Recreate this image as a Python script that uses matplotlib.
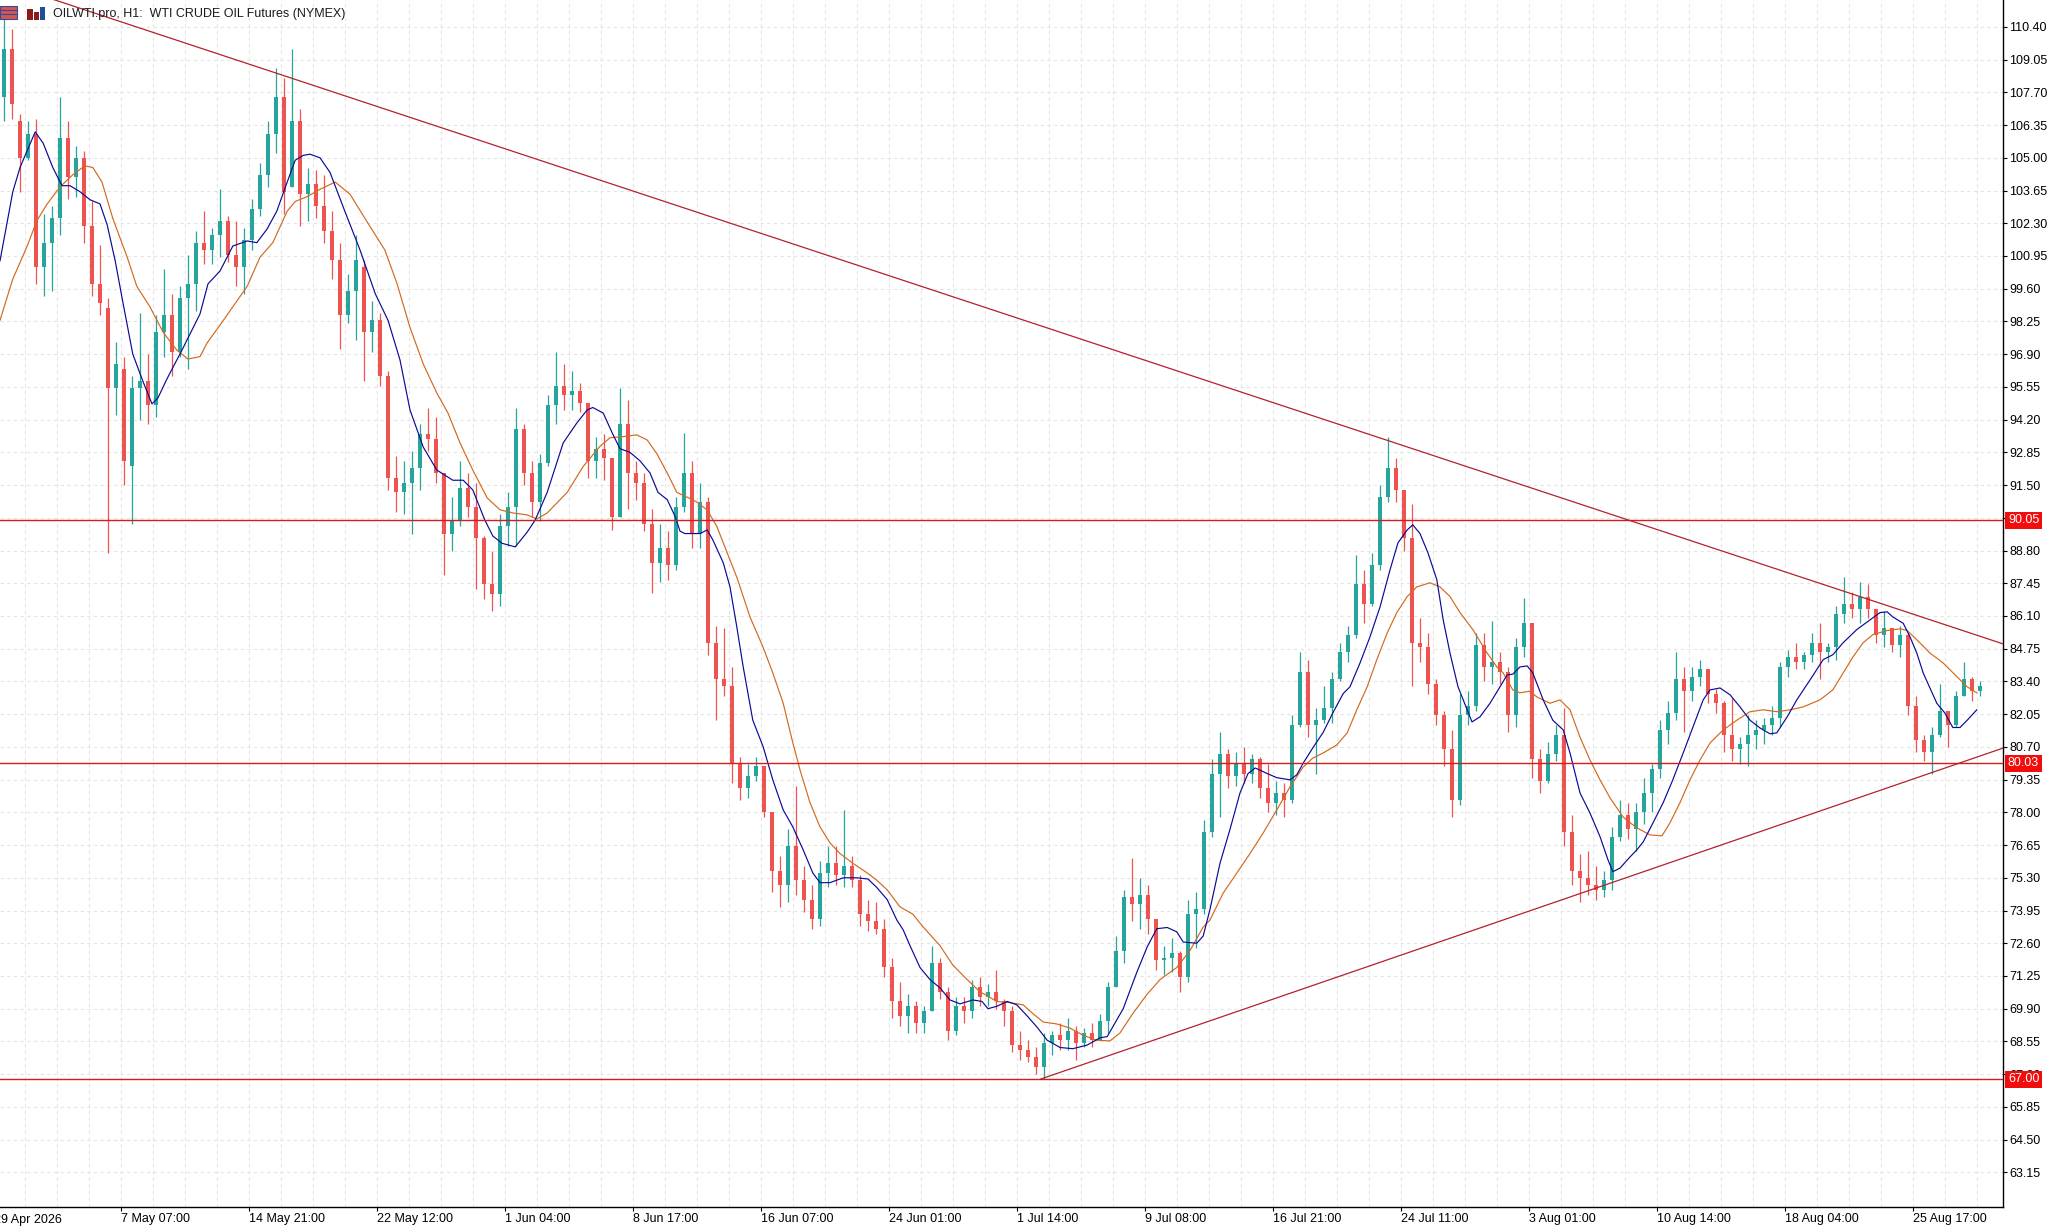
import numpy as np
import matplotlib
matplotlib.use('Agg')
import matplotlib.pyplot as plt
from matplotlib.transforms import blended_transform_factory
from matplotlib.patches import Rectangle

# OILWTI H1 candles, sampled as one candle per 8 px of the original screen
opens = [107.5, 109.5, 106.5, 105.0, 106.0, 100.5, 101.5, 102.5, 105.8, 104.2,
         105.0, 102.2, 99.8, 98.8, 95.5, 96.3, 92.3, 95.5, 95.8, 94.8,
         97.8, 98.5, 97.0, 99.2, 99.8, 101.5, 101.2, 101.8, 102.4, 101.0,
         100.5, 101.6, 102.9, 104.3, 106.0, 107.5, 103.8, 106.5, 103.5, 103.9,
         103.0, 102.0, 100.8, 98.5, 99.5, 100.5, 97.8, 98.3, 96.0, 91.8,
         91.2, 91.6, 92.2, 93.6, 93.4, 92.0, 89.5, 90.0, 91.4, 90.6,
         89.3, 87.4, 87.0, 89.8, 90.6, 93.8, 92.0, 90.8, 92.4, 94.8,
         95.6, 95.2, 95.4, 94.9, 92.5, 93.0, 92.6, 90.2, 94.0, 92.0,
         91.6, 89.9, 88.3, 88.9, 88.2, 90.6, 92.0, 89.5, 90.8, 85.0,
         83.5, 83.2, 80.0, 79.0, 79.5, 79.9, 78.0, 75.6, 75.0, 76.6,
         75.2, 74.4, 73.6, 75.5, 75.9, 75.4, 75.8, 75.2, 73.8, 73.5,
         73.2, 71.6, 70.2, 69.6, 70.0, 69.3, 69.8, 71.8, 70.6, 69.0,
         70.0, 69.8, 70.8, 70.4, 70.6, 70.2, 69.8, 68.4, 68.2, 67.9,
         67.5, 68.5, 68.8, 68.6, 69.0, 68.5, 68.9, 68.6, 69.4, 70.8,
         72.3, 74.5, 74.2, 74.6, 73.6, 71.9, 72.0, 72.2, 71.2, 73.8,
         74.0, 77.2, 79.6, 80.4, 79.5, 80.0, 79.6, 80.2, 79.0, 78.4,
         78.8, 78.5, 81.6, 83.8, 81.6, 81.8, 82.3, 83.5, 84.6, 85.3,
         87.4, 86.6, 88.2, 91.0, 92.2, 91.3, 89.3, 85.0, 84.8, 83.3,
         82.0, 80.6, 78.5, 82.0, 82.4, 84.9, 84.0, 84.2, 83.8, 82.0,
         84.8, 85.8, 80.2, 79.3, 80.4, 81.2, 77.2, 75.6, 75.3, 75.0,
         74.8, 75.2, 77.0, 77.9, 77.3, 78.0, 78.8, 79.8, 81.4, 82.1,
         83.5, 83.0, 83.6, 83.9, 82.9, 82.5, 81.2, 80.6, 80.8, 81.2,
         81.4, 81.6, 81.9, 84.0, 84.4, 84.2, 84.5, 85.0, 84.6, 84.8,
         86.2, 86.6, 86.4, 86.9, 86.4, 85.3, 85.6, 84.9, 85.3, 82.4,
         81.0, 80.5, 81.2, 82.2, 81.6, 82.8, 83.5, 83.0]
highs = [110.85, 110.3, 106.8, 106.5, 106.6, 102.7, 103.0, 107.5, 106.5, 105.5,
         105.3, 103.2, 101.4, 99.2, 97.4, 96.8, 96.0, 98.6, 96.9, 98.5,
         100.4, 99.4, 99.7, 101.0, 102.0, 102.8, 102.1, 103.7, 102.6, 102.4,
         102.1, 103.3, 104.8, 106.5, 108.7, 108.3, 109.5, 107.0, 104.6, 104.5,
         104.3, 102.8, 101.5, 100.2, 101.8, 100.8, 99.1, 98.6, 96.2, 92.7,
         92.5, 92.9, 94.0, 94.7, 94.3, 92.0, 91.0, 92.5, 92.0, 91.6,
         89.4, 88.8, 90.3, 91.2, 94.7, 94.0, 92.5, 92.8, 95.2, 97.0,
         96.5, 96.2, 95.7, 94.9, 93.5, 93.6, 92.6, 95.5, 95.0, 92.5,
         92.0, 90.5, 89.9, 89.6, 91.0, 93.65, 92.5, 91.6, 91.0, 85.7,
         85.6, 84.0, 80.3, 80.0, 80.3, 79.9, 78.0, 76.2, 77.3, 79.1,
         75.8, 75.0, 76.0, 76.6, 76.6, 78.1, 76.2, 75.4, 74.4, 74.3,
         73.6, 72.0, 71.0, 70.5, 70.2, 70.0, 72.5, 72.0, 70.8, 70.4,
         70.4, 71.1, 71.2, 70.9, 71.5, 70.3, 70.0, 69.0, 68.6, 68.3,
         68.9, 69.0, 69.3, 69.5, 69.2, 69.1, 69.3, 69.7, 71.0, 72.9,
         74.8, 76.1, 75.3, 75.0, 73.6, 72.5, 72.8, 72.3, 74.4, 74.7,
         77.7, 80.2, 81.3, 80.6, 80.5, 80.7, 80.4, 80.3, 80.0, 79.3,
         79.2, 82.0, 84.6, 84.3, 82.3, 83.2, 83.8, 85.0, 85.7, 88.6,
         88.0, 88.7, 91.5, 93.5, 92.6, 91.3, 90.7, 86.0, 85.4, 83.5,
         82.2, 81.4, 82.9, 83.0, 85.4, 85.4, 85.9, 84.6, 84.0, 85.2,
         86.85, 85.8, 80.6, 80.9, 81.6, 82.3, 77.9, 76.3, 76.4, 75.8,
         75.6, 77.4, 78.5, 78.4, 78.4, 79.4, 80.0, 81.8, 82.6, 84.6,
         84.0, 84.0, 84.3, 83.9, 83.1, 82.6, 82.7, 81.1, 82.0, 81.8,
         81.9, 82.4, 84.2, 84.7, 85.0, 84.6, 85.4, 85.8, 85.0, 86.5,
         87.7, 87.1, 87.5, 87.4, 86.4, 86.3, 85.6, 85.7, 85.4, 82.8,
         81.2, 81.5, 83.3, 82.2, 83.0, 84.2, 83.6, 83.4]
lows = [106.5, 106.6, 103.6, 104.9, 99.8, 99.3, 99.5, 101.8, 103.3, 103.4,
        101.5, 99.3, 98.5, 88.7, 94.4, 91.5, 89.9, 94.2, 94.0, 94.3,
        96.8, 96.0, 96.8, 96.3, 98.7, 100.6, 100.6, 100.9, 100.7, 99.7,
        99.4, 101.2, 102.6, 103.8, 105.2, 102.7, 103.8, 102.2, 102.4, 102.5,
        101.5, 100.0, 97.1, 98.2, 97.5, 95.8, 97.0, 95.6, 91.3, 90.4,
        90.3, 89.5, 91.3, 92.9, 91.6, 87.8, 88.8, 89.8, 90.2, 87.2,
        86.8, 86.3, 86.5, 89.0, 89.0, 91.5, 90.2, 90.0, 92.3, 94.0,
        94.6, 94.6, 94.5, 91.8, 91.8, 91.7, 89.65, 90.2, 90.5, 90.9,
        89.6, 87.05, 87.5, 87.6, 88.0, 90.4, 88.9, 88.9, 84.5, 81.8,
        82.8, 79.2, 78.5, 78.6, 79.3, 77.8, 74.7, 74.1, 74.3, 74.6,
        73.9, 73.2, 73.3, 74.9, 75.0, 74.9, 74.9, 73.3, 73.1, 73.0,
        71.2, 69.5, 69.2, 68.9, 68.9, 68.9, 69.8, 70.3, 68.6, 68.8,
        69.3, 69.5, 70.0, 70.0, 69.9, 69.2, 68.1, 67.8, 67.7, 67.2,
        67.0, 68.0, 68.2, 68.2, 67.8, 68.3, 68.3, 68.6, 68.9, 70.8,
        71.8, 73.5, 73.2, 73.0, 71.5, 71.3, 71.4, 70.6, 71.0, 72.4,
        73.8, 77.0, 77.8, 79.0, 79.1, 79.2, 79.2, 78.6, 78.0, 77.9,
        77.8, 78.4, 81.5, 81.1, 79.6, 81.7, 81.7, 83.4, 84.2, 85.2,
        85.8, 86.5, 88.0, 90.8, 90.8, 88.8, 83.2, 84.2, 82.9, 81.6,
        79.9, 77.8, 78.3, 81.6, 82.2, 83.4, 83.3, 83.3, 81.3, 81.5,
        84.4, 79.4, 78.8, 79.2, 80.1, 76.6, 75.0, 74.3, 74.6, 74.4,
        74.5, 74.8, 76.8, 76.9, 76.4, 77.5, 78.0, 79.4, 80.8, 81.8,
        81.3, 82.6, 83.2, 82.5, 82.1, 80.5, 80.1, 80.0, 79.9, 80.6,
        80.8, 81.2, 81.5, 83.6, 83.9, 83.9, 84.2, 83.5, 84.2, 84.3,
        85.8, 86.0, 85.8, 86.0, 85.0, 84.8, 84.6, 84.4, 82.0, 80.5,
        80.1, 79.6, 81.1, 80.7, 81.5, 82.8, 82.6, 82.8]
closes = [109.5, 107.2, 105.0, 106.0, 100.5, 101.5, 102.5, 105.8, 104.2, 105.0,
          102.2, 99.8, 99.0, 95.5, 96.5, 92.5, 95.5, 95.8, 94.8, 97.8,
          98.5, 97.0, 99.2, 99.8, 101.5, 101.2, 101.8, 102.4, 101.0, 100.5,
          101.6, 102.9, 104.3, 106.0, 107.5, 103.6, 106.5, 103.5, 103.9, 103.0,
          102.0, 100.8, 98.5, 99.5, 100.8, 97.8, 98.3, 96.0, 91.8, 91.2,
          91.6, 92.2, 93.6, 93.4, 92.0, 89.5, 90.0, 91.4, 90.6, 89.3,
          87.4, 87.0, 89.8, 90.6, 93.8, 92.0, 90.8, 92.4, 94.8, 95.6,
          95.2, 95.4, 94.9, 92.5, 93.0, 92.6, 90.2, 94.0, 92.0, 91.6,
          89.9, 88.3, 88.9, 88.2, 90.6, 92.0, 89.5, 90.8, 85.0, 83.5,
          83.2, 80.0, 79.0, 79.5, 79.9, 78.0, 75.6, 75.0, 76.6, 75.2,
          74.4, 73.6, 75.5, 75.9, 75.4, 75.8, 75.2, 73.8, 73.5, 73.2,
          71.6, 70.2, 69.6, 70.0, 69.3, 69.8, 71.8, 70.6, 69.0, 70.0,
          69.8, 70.8, 70.4, 70.6, 70.2, 69.8, 68.4, 68.2, 67.9, 67.5,
          68.5, 68.8, 68.6, 69.0, 68.5, 68.9, 68.6, 69.4, 70.8, 72.3,
          74.5, 74.2, 74.6, 73.6, 71.9, 72.0, 72.2, 71.2, 73.8, 74.0,
          77.2, 79.6, 80.4, 79.5, 80.0, 79.6, 80.2, 79.0, 78.4, 78.8,
          78.5, 81.6, 83.8, 81.6, 81.8, 82.3, 83.5, 84.6, 85.3, 87.4,
          86.6, 88.2, 91.0, 92.2, 91.3, 89.3, 85.0, 84.8, 83.3, 82.0,
          80.6, 78.5, 82.0, 82.4, 84.9, 84.0, 84.2, 83.8, 82.0, 84.8,
          85.8, 80.2, 79.3, 80.4, 81.2, 77.2, 75.6, 75.3, 75.0, 74.8,
          75.2, 77.0, 77.9, 77.3, 78.0, 78.8, 79.8, 81.4, 82.1, 83.5,
          83.0, 83.6, 83.9, 82.9, 82.5, 81.2, 80.6, 80.8, 81.2, 81.4,
          81.6, 81.9, 84.0, 84.4, 84.2, 84.5, 85.0, 84.6, 84.8, 86.2,
          86.6, 86.4, 86.9, 86.4, 85.3, 85.6, 84.9, 85.3, 82.4, 81.0,
          80.5, 81.2, 82.2, 81.6, 82.8, 83.5, 83.0, 83.2]

# moving averages (position in candles, price)
fast_ma_x = [-0.5, 1.1, 2, 2.9, 3.9, 4.9, 6.1, 7.25, 8.25, 9.5,
             10.75, 12, 12.9, 13.9, 14.9, 16.1, 17.4, 18.5, 19.25, 20.4,
             22.25, 24.5, 25.5, 27, 28.6, 30.4, 31.6, 32.9, 34.1, 35.4,
             36.4, 37.4, 38.25, 39.5, 40.75, 42.6, 44.5, 46.4, 48, 49.5,
             50.75, 52.4, 54.1, 56.1, 57.4, 58.6, 60.1, 61.1, 62.25, 63.9,
             65.4, 66.4, 67.9, 69.9, 71.6, 72.9, 73.6, 74.9, 76.1, 77,
             78.25, 79.5, 80.75, 81.75, 82.9, 83.9, 84.5, 85.1, 87, 87.9,
             88.6, 89.9, 90.75, 91.6, 92.4, 93.6, 94.9, 96.1, 97.4, 98.6,
             99.9, 101.1, 102, 103.25, 104.9, 106.6, 108, 109.1, 110.4, 111.6,
             112.4, 113.25, 114.5, 115.75, 117, 118.25, 119.5, 121.1, 122.25, 123,
             124.1, 125.4, 126.6, 127.9, 129.1, 130.4, 132, 133.6, 135.4, 137,
             137.9, 138.6, 139.9, 141.6, 142.9, 144.1, 145.4, 146.6, 147.4, 149.1,
             149.9, 150.75, 152, 153.25, 154.5, 155.5, 156.4, 157.9, 159.1, 160.75,
             161.6, 162.4, 163.6, 164.9, 166.1, 167.4, 168.25, 169.5, 170.75, 172,
             173.25, 174.25, 175.4, 176.1, 177, 178, 179.1, 179.9, 180.75, 181.75,
             182.9, 183.5, 184.5, 185.75, 187, 187.9, 188.6, 189.5, 190.4, 191.1,
             192.4, 193.6, 194.9, 195.75, 197, 198.25, 199.5, 200.5, 201.1, 202,
             203.25, 204.1, 204.9, 206.1, 207.4, 208.6, 209.9, 211.1, 212.4, 213.25,
             214.5, 215.75, 217, 218.25, 219.5, 220.75, 221.6, 222.9, 224.1, 225.75,
             227.4, 228.6, 229.9, 231.6, 233.25, 234.5, 235.4, 236.1, 237.4, 238.25,
             239.1, 239.9, 240.75, 241.6, 242.6, 243.6, 244.5, 245.4, 246.6]
fast_ma = [100.75, 103.6, 104.6, 105.3, 106.07, 105.6, 104.6, 103.85, 103.85, 103.6,
           103.27, 103.1, 102.23, 100.75, 98.97, 96.9, 95.75, 94.85, 95.1, 95.9,
           97.07, 98.56, 99.8, 100.33, 101.36, 101.57, 101.5, 102.07, 102.8, 104.0,
           104.9, 105.1, 105.15, 105.0, 104.4, 102.8, 101.2, 99.4, 98.3, 96.66,
           94.6, 93.07, 92.12, 91.7, 91.7, 91.3, 90.06, 89.4, 89.1, 88.95,
           89.56, 90.06, 91.2, 93.24, 94.06, 94.6, 94.7, 94.47, 93.6, 93.0,
           92.85, 92.5, 92.0, 91.2, 90.9, 90.2, 89.6, 89.5, 89.5, 89.65,
           89.24, 88.3, 87.3, 85.65, 84.0, 81.8, 80.7, 79.34, 78.1, 77.4,
           76.45, 75.5, 75.1, 75.1, 75.3, 75.3, 75.25, 74.9, 74.4, 73.56,
           73.15, 72.5, 71.6, 71.1, 70.76, 70.26, 70.1, 70.26, 70.2, 69.9,
           70.0, 70.2, 70.06, 69.6, 69.15, 68.6, 68.3, 68.25, 68.4, 68.7,
           68.75, 69.15, 69.9, 71.4, 72.45, 73.2, 73.25, 73.07, 72.65, 72.6,
           72.9, 74.0, 75.9, 77.3, 78.8, 79.6, 79.83, 79.6, 79.43, 79.34,
           79.55, 80.03, 80.66, 81.3, 82.1, 82.9, 83.18, 84.16, 85.24, 86.47,
           88.0, 89.12, 89.65, 89.86, 89.5, 88.7, 87.6, 85.94, 84.57, 83.18,
           82.23, 81.73, 81.94, 82.5, 83.18, 83.67, 83.7, 84.0, 84.04, 83.75,
           82.64, 81.8, 81.4, 80.45, 78.8, 77.97, 77.0, 76.04, 75.55, 75.7,
           76.16, 76.45, 76.78, 77.55, 78.4, 79.34, 80.45, 81.5, 82.64, 83.05,
           83.13, 82.85, 82.35, 81.8, 81.48, 81.24, 81.28, 81.94, 82.64, 83.46,
           84.3, 84.5, 85.0, 85.54, 85.94, 86.24, 86.27, 86.06, 85.8, 85.24,
           84.57, 83.75, 83.13, 82.5, 82.1, 81.5, 81.5, 81.8, 82.23]
slow_ma_x = [-0.5, 1.1, 2.9, 4.1, 5.4, 7, 8.6, 10.1, 11.1, 12.25,
             13.6, 15.4, 16.6, 18.25, 19.9, 21.6, 23, 24.5, 25.4, 27,
             28.6, 30.4, 32, 33.6, 35.4, 36.4, 37.9, 39.5, 41.4, 43.25,
             45.5, 47.6, 49.1, 50.75, 52.4, 54.1, 55.5, 57, 58.6, 60.4,
             62, 63.6, 65.4, 66.6, 67.9, 70.4, 72.4, 74.5, 75.75, 77.4,
             79.1, 80.4, 81.6, 82.9, 84.1, 85.4, 86.6, 87.9, 89.1, 90.4,
             91.6, 93.25, 94.9, 96.1, 97.4, 98.5, 99.5, 100.75, 102, 103.25,
             104.5, 106.1, 107.9, 109.1, 110.4, 112, 113.6, 114.9, 117, 118.6,
             120.4, 122, 124.1, 125.75, 127.4, 128.6, 129.9, 131.6, 133.25, 134.9,
             136.6, 138.25, 139.5, 141.1, 142.9, 144.5, 146.6, 148.25, 149.9, 150.75,
             152.4, 154.1, 155.75, 157.4, 159.1, 160.75, 162.4, 163.6, 164.9, 166.6,
             167.9, 169.1, 170.4, 171.6, 172.9, 174.1, 175.4, 176.6, 178.25, 179.5,
             180.75, 182, 183.6, 185.4, 186.6, 187.4, 188.6, 189.5, 190.75, 191.6,
             193.25, 194.5, 195.75, 197, 198.25, 199.5, 200.75, 202.4, 204.1, 205.75,
             207.25, 208.25, 209.5, 210.75, 212, 213.25, 214.9, 216.6, 218.25, 219.9,
             221.6, 223.25, 224.9, 227, 228.6, 229.9, 231.1, 232.4, 233.6, 235.4,
             237, 237.9, 239.1, 240.75, 242.4, 244.1, 245.4, 246.6]
slow_ma = [98.3, 100.0, 101.36, 102.4, 103.1, 103.8, 104.3, 104.67, 104.6, 104.0,
           102.5, 100.9, 99.7, 98.85, 97.8, 97.07, 96.7, 96.8, 97.37, 98.1,
           98.85, 99.7, 100.9, 101.5, 102.8, 103.2, 103.4, 103.7, 104.0, 103.5,
           102.3, 101.2, 99.84, 98.0, 96.5, 95.3, 94.47, 93.24, 92.12, 90.97,
           90.48, 90.35, 90.27, 90.1, 90.35, 91.2, 92.27, 93.1, 93.45, 93.5,
           93.57, 93.36, 92.8, 92.0, 91.2, 91.0, 90.8, 90.47, 89.8, 88.7,
           87.7, 86.06, 84.8, 83.75, 82.5, 81.0, 79.75, 78.4, 77.4, 76.74,
           76.3, 75.9, 75.5, 75.2, 74.8, 74.1, 73.8, 73.27, 72.5, 71.7,
           71.1, 70.6, 70.2, 70.15, 70.06, 69.7, 69.35, 69.27, 69.1, 68.8,
           68.6, 68.57, 68.9, 69.7, 70.5, 71.1, 71.6, 72.3, 73.27, 73.56,
           74.67, 75.5, 76.3, 77.15, 78.1, 79.05, 79.87, 80.24, 80.45, 80.78,
           81.28, 82.23, 83.18, 84.3, 85.4, 86.24, 86.9, 87.3, 87.47, 87.3,
           86.9, 86.24, 85.54, 84.57, 84.0, 83.75, 83.05, 82.93, 83.0, 82.76,
           82.5, 82.64, 82.23, 81.1, 80.16, 79.34, 78.6, 77.8, 77.36, 77.07,
           77.03, 77.57, 78.4, 79.34, 80.16, 80.86, 81.4, 81.8, 82.15, 82.23,
           82.15, 82.23, 82.35, 82.64, 83.05, 83.75, 84.4, 85.0, 85.33, 85.5,
           85.57, 85.5, 85.12, 84.57, 84.16, 83.6, 83.18, 82.93]

levels = [90.05, 80.03, 67.00]
upper_trend = [(-0.5, 112.26), (249.875, 84.95)]
lower_trend = [(129.6, 67.00), (249.875, 80.65)]

date_labels = ['29 Apr 2026', '7 May 07:00', '14 May 21:00', '22 May 12:00', '1 Jun 04:00',
               '8 Jun 17:00', '16 Jun 07:00', '24 Jun 01:00', '1 Jul 14:00', '9 Jul 08:00',
               '16 Jul 21:00', '24 Jul 11:00', '3 Aug 01:00', '10 Aug 14:00', '18 Aug 04:00',
               '25 Aug 17:00']
price_ticks = np.round(110.40 - 1.35 * np.arange(36), 2)

plt.rcParams['font.family'] = ['Liberation Sans', 'DejaVu Sans']

W, H = 2050, 1227
fig = plt.figure(figsize=(W / 100, H / 100), dpi=100)
fig.patch.set_facecolor('white')
ax = fig.add_axes([0, 20 / H, 2003 / W, 1207 / H])

x0, x1 = -0.5, 249.875
ax.set_xlim(x0, x1)
ax.set_ylim(61.72, 111.51)

# grid
grid_x = np.arange(2.625, x1, 4)
for gx in grid_x:
    ax.axvline(gx, color='#e4e4e4', lw=0.8, ls=(0, (3, 3)), zorder=0)
for gy in price_ticks:
    ax.axhline(gy, color='#e4e4e4', lw=0.8, ls=(0, (3, 3)), zorder=0)

# candles (thin, close together like the dense H1 chart)
o = np.array(opens); h = np.array(highs); l = np.array(lows); c = np.array(closes)
xs = np.arange(len(o))
cols = np.where(c >= o, '#26a69a', '#ef5350')
ax.vlines(xs, l, h, colors=cols, linewidth=0.9, zorder=2)
ax.bar(xs, np.maximum(np.abs(c - o), 0.06), bottom=np.minimum(o, c), width=0.45,
       color=cols, linewidth=0, zorder=2)

# moving averages
ax.plot(slow_ma_x, slow_ma, color='#d2691e', lw=0.85, zorder=3)
ax.plot(fast_ma_x, fast_ma, color='#0a0a96', lw=0.85, zorder=3)

# levels and trendlines
for lv in levels:
    ax.axhline(lv, color='#d41c1c', lw=1.0, zorder=4)
for tl in (upper_trend, lower_trend):
    ax.plot([tl[0][0], tl[1][0]], [tl[0][1], tl[1][1]], color='#b5202c', lw=0.9, zorder=4)

# axes look
for s in ('top', 'left'):
    ax.spines[s].set_visible(False)
for s in ('right', 'bottom'):
    ax.spines[s].set_color('black')
    ax.spines[s].set_linewidth(1.0)

ax.yaxis.tick_right()
ax.set_yticks(price_ticks)
ax.set_yticklabels([f'{v:.2f}' for v in price_ticks])
ax.tick_params(axis='y', direction='out', length=3, width=0.8, pad=1.5,
               labelsize=9, colors='black')

label_pos = [-1.375 + 16 * k for k in range(len(date_labels))]
inside = [(p, t) for p, t in zip(label_pos, date_labels) if p >= x0]
ax.set_xticks([p for p, _ in inside])
ax.set_xticklabels([t for _, t in inside], ha='left')
ax.tick_params(axis='x', direction='out', length=3, width=0.8, pad=1.5,
               labelsize=9, colors='black')
# first date label starts left of the window, so only its tail shows
for p, t in zip(label_pos, date_labels):
    if p < x0:
        ax.text(p + 0.15, -0.006, t, transform=blended_transform_factory(ax.transData, ax.transAxes),
                ha='left', va='top', fontsize=9, clip_on=False)

trans = blended_transform_factory(ax.transAxes, ax.transData)
for lv in levels:
    ax.text(1.0 + 5 / 2003, lv, f'{lv:.2f}', transform=trans, ha='left', va='center',
            fontsize=9, color='white', clip_on=False, zorder=10,
            bbox=dict(boxstyle='square,pad=0.2', facecolor='#f20d0d', edgecolor='none'))

# header
fig.text(53 / W, 1 - 13.5 / H, 'OILWTI.pro, H1:  WTI CRUDE OIL Futures (NYMEX)',
         fontsize=9, va='center', ha='left', color='#1a1a1a')
fig.add_artist(Rectangle((0, 1 - 19 / H), 17 / W, 13 / H, transform=fig.transFigure,
                         facecolor='#d9534f', edgecolor='#2b4f9e', lw=0.8))
for yy in (9.5, 13.5):
    fig.add_artist(plt.Line2D([1 / W, 16 / W], [1 - yy / H, 1 - yy / H], transform=fig.transFigure,
                              color='#2b4f9e', lw=0.8))
for bx, by, bw, bh, bc in ((27, 9, 6, 11, '#8b1a1a'), (34, 12, 5, 8, '#8b1a1a'), (40, 7, 5, 13, '#1f4e9c')):
    fig.add_artist(Rectangle((bx / W, 1 - (by + bh) / H), bw / W, bh / H, transform=fig.transFigure,
                             facecolor=bc, edgecolor='none'))

fig.savefig('out.png', dpi=100)
